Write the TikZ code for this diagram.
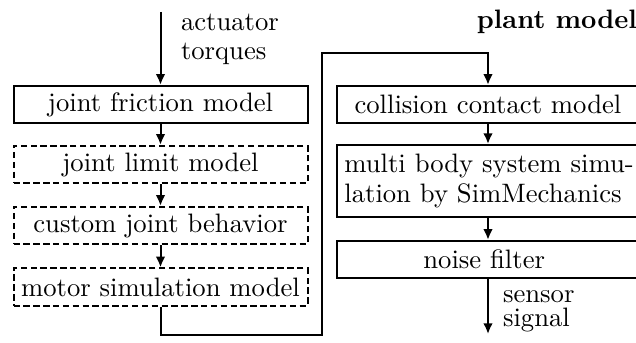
\documentclass[tikz,border=0pt]{standalone}
\usetikzlibrary{arrows.meta}
\begin{document}
\begin{tikzpicture}[
  x=0.375pt, y=-0.375pt,
  line width=0.75pt,
  blk/.style={draw, rectangle, inner sep=0pt, minimum width=110.25pt, minimum height=14pt},
  optblk/.style={blk, dash pattern=on 2.4pt off 1.3pt},
  wideblk/.style={blk, minimum width=116pt},
  flow/.style={-{Latex[length=4pt,width=3.6pt]}},
  lbl/.style={inner sep=0pt, anchor=base west},
]
\useasboundingbox (0,0) rectangle (636,343);

% joint-side chain
\node[blk]    (jf) at (160.5,104.5) {joint friction model};
\node[optblk] (jl) at (160.5,164.5) {joint limit model};
\node[optblk] (cj) at (160.5,225.5) {custom joint behavior};
\node[optblk] (ms) at (160.5,287)   {motor simulation model};

% plant side (boxes run past the right margin)
\node[wideblk] (cc) at (491.7,104.5) {\hspace*{-2.8pt}collision contact model};
\node[wideblk, minimum height=27pt] (mb) at (491.7,181)
  {\hspace*{-2pt}\begin{tabular}{@{}l@{}}multi body system simu-\\[-1pt]lation by SimMechanics\end{tabular}};
\node[wideblk] (nf) at (491.7,259.5) {\hspace*{-5.6pt}noise filter};

\node[inner sep=0pt, anchor=base east] (pm) at (638,29) {\bfseries plant model};

% input / output labels
\node[lbl] (a1) at (180,31) {actuator};
\node[lbl] (a2) at (180,60) {torques};
\node[lbl] (s1) at (502,303) {sensor};
\node[lbl] (s2) at (502,327) {signal};

% free ends, loop corners and the plant-side signal axis
\coordinate (in)   at (160.5,12);
\coordinate (out)  at (488,334);
\coordinate (c1)   at (322,335);
\coordinate (c2)   at (322,53);
\coordinate (axis) at (488,0);

% connectors
\draw[flow] (in) -- (jf.north);
\draw[flow] (jf.south) -- (jl.north);
\draw[flow] (jl.south) -- (cj.north);
\draw[flow] (cj.south) -- (ms.north);
\draw[flow] (ms.south) |- (c1) -- (c2) -| (cc.north -| axis);
\draw[flow] (cc.south -| axis) -- (mb.north -| axis);
\draw[flow] (mb.south -| axis) -- (nf.north -| axis);
\draw[flow] (nf.south -| axis) -- (out);
\end{tikzpicture}
\end{document}
